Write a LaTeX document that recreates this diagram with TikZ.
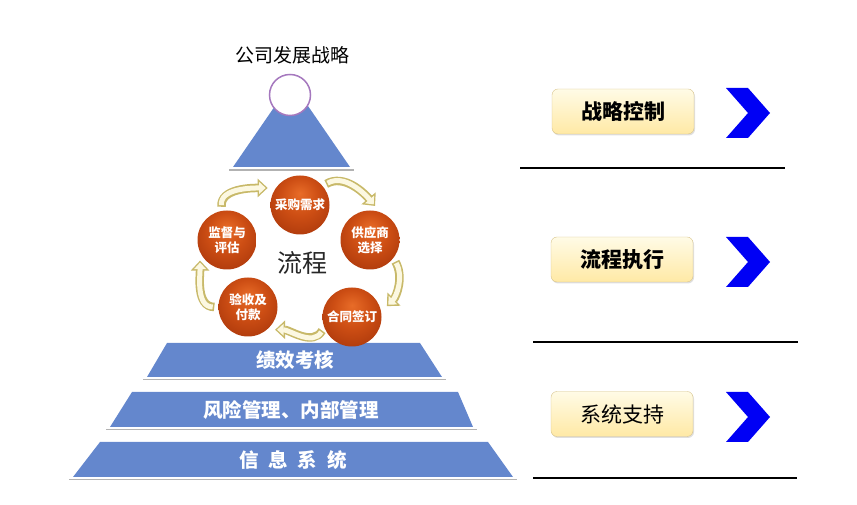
\documentclass[tikz,border=0pt]{standalone}
\usepackage{fontspec}
\setmainfont{Noto Sans CJK SC}
\usetikzlibrary{arrows.meta, positioning, shadows}
\definecolor{bandblue}{RGB}{100, 135, 205}
\definecolor{ringpurple}{RGB}{165, 120, 190}
\definecolor{arrowkhaki}{RGB}{200, 185, 105}
\definecolor{arrowcream}{RGB}{252, 248, 225}
\definecolor{boxtop}{RGB}{255, 251, 230}
\definecolor{boxbottom}{RGB}{255, 233, 165}
\definecolor{boxedge}{RGB}{215, 195, 140}
\definecolor{chevblue}{RGB}{0, 0, 245}
\definecolor{orbhi}{RGB}{232, 108, 40}
\definecolor{orbmid}{RGB}{205, 78, 20}
\definecolor{orbmidd}{RGB}{165, 52, 10}
\definecolor{orbdark}{RGB}{105, 28, 5}
\pgfdeclareradialshading{orbshade}{\pgfpoint{0bp}{10bp}}{color(0bp)=(orbhi); color(16bp)=(orbmid); color(36bp)=(orbmidd); color(50bp)=(orbdark)}

\begin{document}
\begin{tikzpicture}[
    x=1pt, y=1pt,
    band/.style={fill=bandblue},
    band text/.style={text=white, font=\bfseries\fontsize{19.5}{22}\selectfont},
    band shadow/.style={line width=1.6pt, black!30},
    orb ball/.style={circle, minimum size=59pt, inner sep=0pt, shading=orbshade,
        text=white, align=center, font=\bfseries\fontsize{12.5}{15}\selectfont},
    cycle arrow/.style={
        draw=arrowkhaki, line width=8.5pt, -{Triangle[length=10pt, width=18pt]},
        shorten >=8pt, shorten <=4pt,
        postaction={draw=arrowcream, line width=5pt, -{Triangle[length=6.5pt, width=11.5pt]},
            shorten >=10pt, shorten <=5.6pt}
    },
    label box/.style={rounded corners=6pt, draw=boxedge, top color=boxtop, bottom color=boxbottom,
        minimum width=142pt, minimum height=45pt,
        drop shadow={shadow xshift=1pt, shadow yshift=-1.5pt, opacity=0.25},
        font=\fontsize{21}{24}\selectfont},
    rule line/.style={line width=1.6pt, black}
]
\useasboundingbox (0,0) rectangle (857,505);

% Top of the pyramid
\fill[band] (233,338) -- (350,338) -- (291.5,423) -- cycle;
\draw[band shadow] (229,335) -- (354,335);
\node[circle, draw=ringpurple, line width=1.5pt, fill=white, minimum size=41pt, inner sep=0pt] (TopCircle) at (290,410) {};
\node[font=\fontsize{19}{22}\selectfont] (TitleText) at (292,450) {公司发展战略};

% Pyramid bands
\fill[band] (147,128) -- (442,128) -- (420,162) -- (167,162) -- cycle;
\draw[band shadow] (143,125.5) -- (446,125.5);
\node[band text] (BandPerf) at (295,145) {绩效考核};

\fill[band] (110,78) -- (473,78) -- (458,113) -- (132,113) -- cycle;
\draw[band shadow] (106,75.5) -- (477,75.5);
\node[band text] (BandRisk) at (291,95) {风险管理、内部管理};

\fill[band] (73,28) -- (513,28) -- (488,63) -- (100,63) -- cycle;
\draw[band shadow] (69,25.5) -- (517,25.5);
\node[band text] (BandInfo) at (293,45) {信\hspace{0.5em}息\hspace{0.5em}系\hspace{0.5em}统};

% Process ring
\node[font=\fontsize{25}{28}\selectfont, text=black!85] (FlowText) at (302,242) {流程};
\node[orb ball] (BallNeed) at (300,300) {采购需求};
\node[orb ball] (BallSupplier) at (370,265) {供应商\\选择};
\node[orb ball] (BallContract) at (352,188) {合同签订};
\node[orb ball] (BallPay) at (248,198) {验收及\\付款};
\node[orb ball] (BallAudit) at (227,265) {监督与\\评估};

\draw[cycle arrow] (BallAudit.100) to[out=95, in=180] (BallNeed.145);
\draw[cycle arrow] (BallNeed.40) to[out=30, in=130] (BallSupplier.70);
\draw[cycle arrow] (BallSupplier.-38) to[out=-60, in=45] (BallContract.10);
\draw[cycle arrow] (BallContract.200) to[out=240, in=0] (BallPay.-50);
\draw[cycle arrow] (BallPay.180) to[out=180, in=-90] (BallAudit.205);

% Right column
\node[label box, font=\bfseries\fontsize{21}{24}\selectfont] (BoxControl) at (623,393.5) {战略控制};
\node[label box, font=\bfseries\fontsize{21}{24}\selectfont] (BoxExec) at (622,245.5) {流程执行};
\node[label box] (BoxSupport) at (622,91) {系统支持};

\foreach \cy in {392, 243, 88}
    \fill[chevblue] (726,\cy+25) -- ++(22,0) -- ++(22,-25) -- ++(-22,-25) -- ++(-22,0) -- ++(22,25) -- cycle;

\draw[rule line] (520,337) -- (785,337);
\draw[rule line] (533,163) -- (798,163);
\draw[rule line] (533,27) -- (797,27);

\end{tikzpicture}
\end{document}
